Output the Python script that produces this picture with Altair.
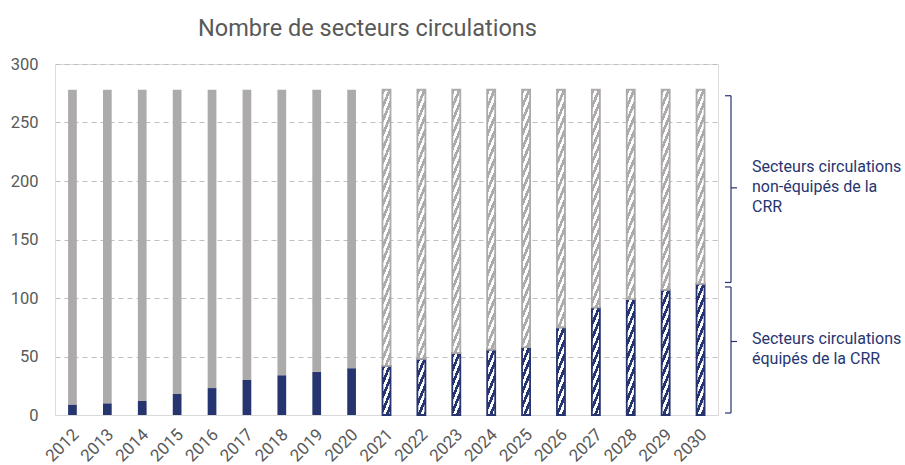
import altair as alt

# ---- data ----
years = ["2012", "2013", "2014", "2015", "2016", "2017", "2018", "2019", "2020",
         "2021", "2022", "2023", "2024", "2025", "2026", "2027", "2028", "2029", "2030"]
equipped = [9, 10, 12, 18, 23, 30, 34, 37, 40,
            42, 48, 53, 56, 58, 75, 92, 99, 107, 112]
total = [278] * 19
projected = [False] * 9 + [True] * 10

seg_names = ["Secteurs circulations équipés de la CRR",
             "Secteurs circulations non-équipés de la CRR"]
note_labels = ["Secteurs circulations\néquipés de la CRR",
               "Secteurs circulations\nnon-équipés de la\nCRR"]

# ---- styles ----
NAVY = "#263570"
GREY = "#ADAAAA"
TEXT = "#595959"
FONT = "Roboto"
W, H = 663, 351
YMAX = 300
N_CAT = len(years)
STEP = W / (N_CAT - 0.5 + 2 * 0.25)
HATCH_BAND = 0.46
SW = 1.8


def hatch(color, w, h, a=1.2, period=14.0, frac=0.5):
    """linear gradient (objectBoundingBox) that looks like '/' hatching"""
    L = a * w + h
    c = L / ((a * w) ** 2 + h ** 2)
    n = L / period
    stops = []
    k = 0
    while k < n:
        s = round(k / n, 5)
        m = round(min((k + frac) / n, 1), 5)
        e = round(min((k + 1) / n, 1), 5)
        stops += [{"offset": s, "color": color}, {"offset": m, "color": color},
                  {"offset": m, "color": "#ffffff"}, {"offset": e, "color": "#ffffff"}]
        k += 1
    return {"gradient": "linear", "x1": 0, "y1": 0,
            "x2": round(c * a * w, 6), "y2": round(c * h, 6), "stops": stops}


rows = []
bw = HATCH_BAND * STEP
for yr, eq, tot, pr in zip(years, equipped, total, projected):
    for seg, lo, hi, col in ((seg_names[0], 0, eq, NAVY), (seg_names[1], eq, tot, GREY)):
        r = {"year": yr, "seg": seg, "lo": lo, "hi": hi, "proj": pr}
        if pr:
            r["grad"] = hatch(col, bw, (hi - lo) * H / YMAX)
        rows.append(r)

bars = alt.Data(values=rows)

xenc = alt.X("year:O", title=None, sort=years,
             scale=alt.Scale(paddingInner=0.5, paddingOuter=0.25),
             axis=alt.Axis(labelAngle=-45, ticks=False, domainColor="#D9D9D9",
                           labelFontSize=17, labelColor=TEXT, labelFont=FONT,
                           labelPadding=11, labelOffset=-2))
yscale = alt.Scale(domain=[0, YMAX])
yenc = alt.Y("lo:Q", title=None, scale=yscale,
             axis=alt.Axis(values=[0, 50, 100, 150, 200, 250, 300], ticks=False,
                           tickSize=0, domain=False, gridDash=[5, 4],
                           gridColor="#BFBFBF", labelPadding=17, labelFontSize=16.5,
                           labelColor=TEXT, labelFont=FONT))

solid = alt.Chart(bars).transform_filter("!datum.proj").mark_bar(
    width=alt.RelativeBandSize(0.5)
).encode(
    x=xenc, y=yenc, y2="hi:Q",
    color=alt.Color("seg:N", scale=alt.Scale(domain=seg_names, range=[NAVY, GREY]),
                    legend=None),
)

hatched = alt.Chart(bars).transform_filter("datum.proj").mark_bar(
    width=alt.RelativeBandSize(HATCH_BAND), strokeWidth=SW
).encode(
    x=xenc, y=yenc, y2="hi:Q",
    fill=alt.Fill("grad:N", scale=None, legend=None),
    stroke=alt.Stroke("seg:N", scale=alt.Scale(domain=seg_names, range=[NAVY, GREY]),
                      legend=None),
)

# ---- bracket annotation for the last bar ----
last_eq = equipped[-1]
last_tot = total[-1]
lower = alt.Data(values=[{"lo": 0, "hi": last_eq, "mid": last_eq / 2,
                          "label": note_labels[0]}])
upper = alt.Data(values=[{"lo": last_eq, "hi": last_tot, "mid": (last_eq + last_tot) / 2,
                          "label": note_labels[1]}])

BX = 676


def bracket(src, top_inset, bot_inset, nub_dy, text_dy):
    b = alt.Chart(src)
    ys = lambda f: alt.Y(f, scale=yscale, title=None)
    vline = b.mark_rule(color=NAVY, strokeWidth=1.2, yOffset=-bot_inset,
                        y2Offset=top_inset).encode(
        x=alt.value(BX), y=ys("lo:Q"), y2="hi:Q")
    t_lo = b.mark_rule(color=NAVY, strokeWidth=1.2, yOffset=-bot_inset).encode(
        x=alt.value(BX - 6), x2=alt.value(BX), y=ys("lo:Q"))
    t_hi = b.mark_rule(color=NAVY, strokeWidth=1.2, yOffset=top_inset).encode(
        x=alt.value(BX - 6), x2=alt.value(BX), y=ys("hi:Q"))
    nub = b.mark_rule(color=NAVY, strokeWidth=1.2, yOffset=nub_dy).encode(
        x=alt.value(BX), x2=alt.value(BX + 6), y=ys("mid:Q"))
    txt = b.mark_text(align="left", baseline="middle", lineBreak="\n", fontSize=16,
                      lineHeight=20, color=NAVY, font=FONT, dy=text_dy).encode(
        x=alt.value(BX + 21), y=ys("mid:Q"), text="label:N")
    return [vline, t_lo, t_hi, nub, txt]


layers = [solid, hatched] + bracket(lower, 3, 2, -8, -10) + bracket(upper, 6, 1.5, 1, -20)

chart = alt.layer(*layers).properties(
    width=W, height=H,
    title=alt.TitleParams("Nombre de secteurs circulations", font=FONT, fontSize=23.5,
                          fontWeight="normal", color=TEXT, anchor="middle", dx=-19,
                          dy=31, offset=28, baseline="alphabetic", frame="group"),
    autosize=alt.AutoSizeParams(type="none"),
    padding={"left": 55, "top": 64, "right": 905 - 55 - W, "bottom": 465 - 64 - H},
).configure_view(stroke=None).configure(background="white")

chart.save("out.html", embed_options={"renderer": "svg", "actions": False})
